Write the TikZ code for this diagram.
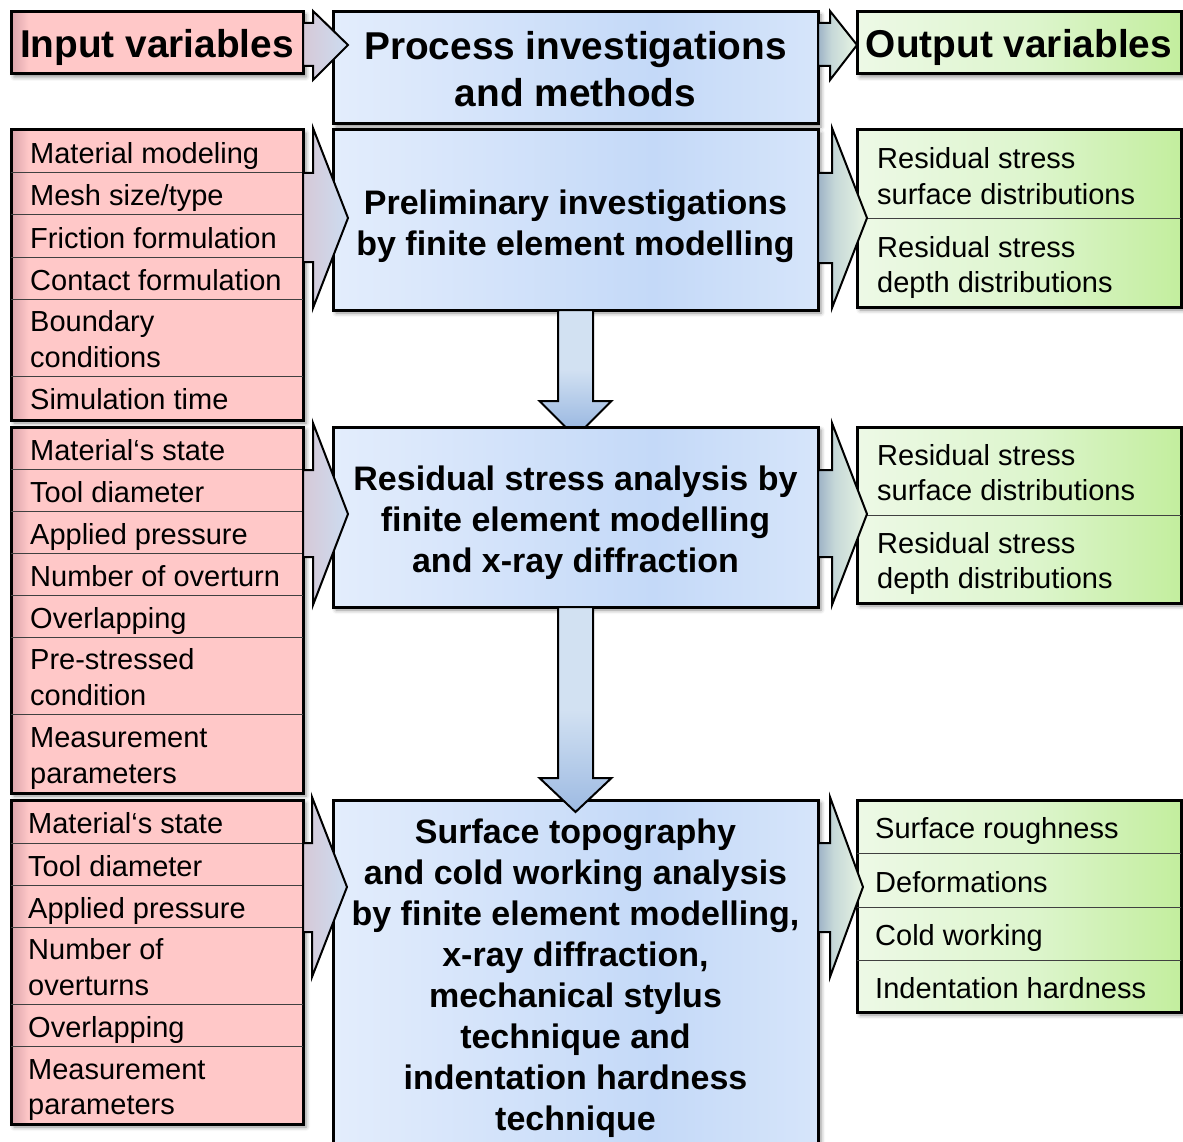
\documentclass[tikz,border=0pt]{standalone}
\usepackage{fontspec}
\setmainfont{Liberation Sans}
\usetikzlibrary{calc,shadows.blur}
\definecolor{pk}{HTML}{FFC8C8}
\definecolor{pkdark}{HTML}{D9A3AA}
\definecolor{procA}{HTML}{E3EDFC}
\definecolor{procB}{HTML}{C4D9F8}
\definecolor{procC}{HTML}{D6E5FA}
\definecolor{gnA}{HTML}{EDF9E6}
\definecolor{gnM}{HTML}{DDF5CD}
\definecolor{gnB}{HTML}{C3EE9E}
\definecolor{laA}{HTML}{D6C9D7}
\definecolor{laB}{HTML}{CCDCF1}
\definecolor{raA}{HTML}{9DB2C6}
\definecolor{raM}{HTML}{C6D8D8}
\definecolor{raB}{HTML}{E8F5E3}
\definecolor{daA}{HTML}{D2E1F2}
\definecolor{daB}{HTML}{9DBAE2}
\pgfdeclarehorizontalshading{inshade}{100bp}{color(0bp)=(pkdark); color(25bp)=(pkdark); color(28bp)=(pk); color(100bp)=(pk)}
\pgfdeclarehorizontalshading{outshade}{100bp}{color(0bp)=(gnA); color(25bp)=(gnA); color(52bp)=(gnM); color(75bp)=(gnB); color(100bp)=(gnB)}
\pgfdeclarehorizontalshading{procshade}{100bp}{color(0bp)=(procA); color(25bp)=(procA); color(58bp)=(procB); color(75bp)=(procC); color(100bp)=(procC)}
\pgfdeclarehorizontalshading{larrshade}{100bp}{color(0bp)=(laA); color(25bp)=(laA); color(75bp)=(laB); color(100bp)=(laB)}
\pgfdeclarehorizontalshading{rarrshade}{100bp}{color(0bp)=(raA); color(25bp)=(raA); color(42bp)=(raM); color(75bp)=(raB); color(100bp)=(raB)}
\pgfdeclareverticalshading{darrshade}{100bp}{color(0bp)=(daB); color(25bp)=(daB); color(50bp)=(daA); color(100bp)=(daA)}
\newcommand{\rowfont}{\fontsize{29}{35.5}\selectfont}
\newcommand{\headfont}{\fontsize{38.8}{47}\selectfont\bfseries}
\newcommand{\procfont}{\fontsize{34}{41}\selectfont\bfseries}
\tikzset{framebox/.style={draw=black,line width=3pt,outer sep=0pt,inner sep=0pt,anchor=north west,
           blur shadow={shadow xshift=3pt,shadow yshift=-3pt,shadow blur radius=4pt,shadow opacity=45}},
         inbox/.style={framebox,shade,shading=inshade,minimum width=292pt},
         outbox/.style={framebox,shade,shading=outshade,minimum width=324pt},
         procbox/.style={framebox,shade,shading=procshade,minimum width=485pt,align=center,font=\procfont,
           text depth=5pt},
         headtxt/.style={font=\headfont,align=center,text height=36pt,text depth=6pt},
         rowtxt/.style={anchor=west,inner sep=0pt,align=left,font=\rowfont,text height=28pt,text depth=4pt},
         tworows/.style={text height=63.5pt},
         sepline/.style={line width=1pt,black!75},
         sidearr/.style={draw=black,line width=2pt,line join=miter,shade},
         larr/.style={sidearr,shading=larrshade},
         rarr/.style={sidearr,shading=rarrshade},
         darr/.style={sidearr,shading=darrshade}}

\begin{document}
\begin{tikzpicture}[x=1pt,y=-1pt]
  \useasboundingbox (0,0) rectangle (1183,1142);
  \clip (0,0) rectangle (1183,1142);
  % headers
  \node[inbox,minimum height=62pt,headtxt] (inhead) at (11,12) {Input variables};
  \node[procbox,minimum height=112pt,headtxt,text height=83pt] (prochead) at (333,12) {Process investigations\\and methods};
  \node[outbox,minimum height=62pt,headtxt] (outhead) at (857,12) {Output variables};
  % input variables
  \node[inbox,minimum height=290pt] (inA) at (11,130) {};
  \node[inbox,minimum height=366pt] (inB) at (11,427) {};
  \node[inbox,minimum height=324pt] (inC) at (11,800) {};
  \draw[sepline] (11,173)--(303,173) (11,215)--(303,215) (11,257)--(303,257)
    (11,299)--(303,299) (11,376)--(303,376);
  \draw[sepline] (11,469)--(303,469) (11,511)--(303,511) (11,553)--(303,553)
    (11,595)--(303,595) (11,637)--(303,637) (11,714)--(303,714);
  \draw[sepline] (11,843)--(303,843) (11,885)--(303,885) (11,927)--(303,927)
    (11,1004)--(303,1004) (11,1046)--(303,1046);
  \node[rowtxt] (inA1) at (30,151.5) {Material modeling};
  \node[rowtxt] (inA2) at (30,194) {Mesh size/type};
  \node[rowtxt] (inA3) at (30,236) {Friction formulation};
  \node[rowtxt] (inA4) at (30,278) {Contact formulation};
  \node[rowtxt,tworows] (inA5) at (30,337.5) {Boundary\\conditions};
  \node[rowtxt] (inA6) at (30,397.5) {Simulation time};
  \node[rowtxt] (inB1) at (30,448) {Material‘s state};
  \node[rowtxt] (inB2) at (30,490) {Tool diameter};
  \node[rowtxt] (inB3) at (30,532) {Applied pressure};
  \node[rowtxt] (inB4) at (30,574) {Number of overturn};
  \node[rowtxt] (inB5) at (30,616) {Overlapping};
  \node[rowtxt,tworows] (inB6) at (30,675.5) {Pre-stressed\\condition};
  \node[rowtxt,tworows] (inB7) at (30,753.5) {Measurement\\parameters};
  \node[rowtxt] (inC1) at (28,821.5) {Material‘s state};
  \node[rowtxt] (inC2) at (28,864) {Tool diameter};
  \node[rowtxt] (inC3) at (28,906) {Applied pressure};
  \node[rowtxt,tworows] (inC4) at (28,965.5) {Number of\\overturns};
  \node[rowtxt] (inC5) at (28,1025) {Overlapping};
  \node[rowtxt,tworows] (inC6) at (28,1085) {Measurement\\parameters};
  % process investigations
  \node[procbox,minimum height=180pt,text height=75pt] (prelim) at (333,130) {Preliminary investigations\\by finite element modelling};
  \node[procbox,minimum height=180pt,text height=115pt] (resid) at (333,427) {Residual stress analysis by\\finite element modelling\\and x-ray diffraction};
  \node[procbox,minimum height=350pt,text height=315pt] (topo) at (333,800) {Surface topography\\and cold working analysis\\by finite element modelling,\\x-ray diffraction,\\mechanical stylus\\technique and\\indentation hardness\\technique};
  % output variables
  \node[outbox,minimum height=177pt] (outA) at (857,130) {};
  \node[outbox,minimum height=176pt] (outB) at (857,427) {};
  \node[outbox,minimum height=212pt] (outC) at (857,800) {};
  \draw[sepline] (857,219)--(1181,219) (857,515)--(1181,515);
  \draw[sepline] (857,853)--(1181,853) (857,907)--(1181,907) (857,960)--(1181,960);
  \node[rowtxt,tworows] (outA1) at (877,174.5) {Residual stress\\surface distributions};
  \node[rowtxt,tworows] (outA2) at (877,263) {Residual stress\\depth distributions};
  \node[rowtxt,tworows] (outB1) at (877,471) {Residual stress\\surface distributions};
  \node[rowtxt,tworows] (outB2) at (877,559) {Residual stress\\depth distributions};
  \node[rowtxt] (outC1) at (875,826.5) {Surface roughness};
  \node[rowtxt] (outC2) at (875,880) {Deformations};
  \node[rowtxt] (outC3) at (875,933.5) {Cold working};
  \node[rowtxt] (outC4) at (875,986) {Indentation hardness};
  % arrows
  \draw[larr] (303,23)--(313,23)--(313,11)--(348,45)--(313,80)--(313,66)--(303,66)--cycle;
  \draw[rarr] (818,23)--(830,23)--(830,11)--(857,45)--(830,80)--(830,66)--(818,66)--cycle;
  \draw[larr] (303,173)--(313,173)--(313,128)--(348,218)--(313,308)--(313,262)--(303,262)--cycle;
  \draw[larr] (303,470)--(313,470)--(313,423)--(348,514)--(313,605)--(313,557)--(303,557)--cycle;
  \draw[larr] (303,843)--(312,843)--(312,797)--(347,887)--(312,977)--(312,932)--(303,932)--cycle;
  \draw[rarr] (818,173)--(832,173)--(832,128)--(867,218)--(832,308)--(832,263)--(818,263)--cycle;
  \draw[rarr] (818,470)--(832,470)--(832,423)--(867,514)--(832,605)--(832,557)--(818,557)--cycle;
  \draw[rarr] (818,843)--(830,843)--(830,797)--(863,887)--(830,977)--(830,932)--(818,932)--cycle;
  \draw[darr] ($(prelim.south)+(-17.5,0)$)--($(resid.north)+(-17.5,-26)$)--($(resid.north)+(-36,-26)$)
    --($(resid.north)+(-10,0)$)--($(resid.north)+(10,0)$)--($(resid.north)+(36,-26)$)
    --($(resid.north)+(17.5,-26)$)--($(prelim.south)+(17.5,0)$)--cycle;
  \draw[darr] ($(resid.south)+(-17.5,0)$)--($(topo.north)+(-17.5,-22)$)--($(topo.north)+(-36,-22)$)
    --($(topo.north)+(0,12)$)--($(topo.north)+(36,-22)$)--($(topo.north)+(17.5,-22)$)
    --($(resid.south)+(17.5,0)$)--cycle;
\end{tikzpicture}
\end{document}
